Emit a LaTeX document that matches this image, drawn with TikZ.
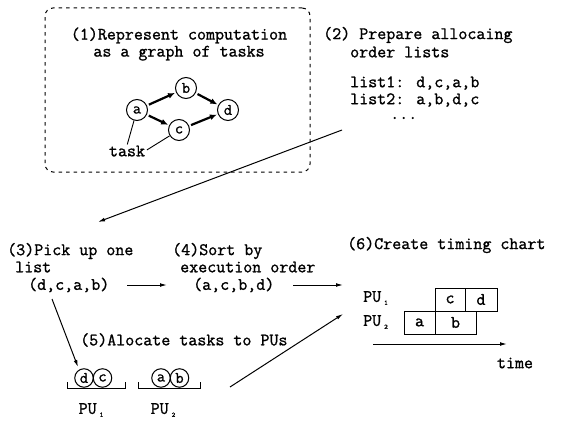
\documentclass[tikz,border=0pt]{standalone}
\usepackage{fontspec}
\newfontfamily\courfont[FakeBold=1.2]{Latin Modern Mono}
\usetikzlibrary{arrows.meta}
\newcommand{\pusub}[1]{\,\raisebox{-3pt}{\fontsize{7}{7}\selectfont #1}}
\begin{document}
\begin{tikzpicture}[x=1pt,y=-1pt,
  txt/.style={inner sep=0pt, font=\courfont\fontsize{17.5}{17}\selectfont},
  tsk/.style={circle, draw, line width=1pt, minimum size=21pt, inner sep=0pt, font=\courfont\fontsize{16}{16}\selectfont},
  thk/.style={line width=2.2pt, -{Latex[length=7pt,width=6pt]}, shorten <=2pt, shorten >=1pt},
  thinarrow/.style={line width=1pt, -{Latex[length=7pt,width=3.8pt]}},
  cell/.style={draw, line width=0.9pt, inner sep=0pt, minimum height=23pt, font=\courfont\fontsize{17.5}{17}\selectfont},
  frame/.style={draw, dash pattern=on 3.5pt off 4pt, line width=1pt, rounded corners=8pt, inner sep=0pt}
]
\useasboundingbox (0,0) rectangle (565,428);

% frame of step (1)
\node[frame, minimum width=265pt, minimum height=164pt] (fr) at (177.5,90) {};

% step (1)
\node[txt, align=center] (t1) at (179,44) {(1)Represent computation\\as a graph of tasks};
\node[tsk] (a) at (137,110) {a};
\node[tsk] (b) at (186,88) {b};
\node[tsk] (c) at (179,130) {c};
\node[tsk] (d) at (228,110) {d};
\draw[thk] (a) -- (b);
\draw[thk] (b) -- (d);
\draw[thk] (a) -- (c);
\draw[thk] (c) -- (d);
\node[txt] (task) at (127,151) {task};
\draw[line width=0.9pt, shorten <=1pt] (task.north) -- (a);
\draw[line width=0.9pt, shorten <=2pt] (task.east) -- (c);

% step (2)
\node[txt, anchor=west] (t2a) at (323,35) {(2) Prepare allocaing};
\node[txt, anchor=west] (t2b) at (350,52) {order lists};
\node[txt, anchor=west] (l1) at (350,83) {list1: d,c,a,b};
\node[txt, anchor=west] (l2) at (350,100) {list2: a,b,d,c};
\node[txt, anchor=west] (dots) at (390,118) {...};

\coordinate (p1) at (342,130);
\coordinate (p2) at (98,222);
\draw[thinarrow] (p1) -- (p2);

% step (3)
\node[txt, anchor=west] (s3a) at (7,251) {(3)Pick up one};
\node[txt, anchor=west] (s3b) at (15,267) {list};
\node[txt, anchor=west] (s3c) at (28,285) {(d,c,a,b)};

% step (4)
\node[txt, anchor=west] (s4a) at (172,251) {(4)Sort by};
\node[txt, anchor=west] (s4b) at (180,267) {execution order};
\node[txt, anchor=west] (s4c) at (193,285) {(a,c,b,d)};

\coordinate (q1) at (127,285);
\coordinate (q2) at (167,285);
\draw[thinarrow] (q1) -- (q2);
\coordinate (q3) at (293,285);
\coordinate (q4) at (343,285);
\draw[thinarrow] (q3) -- (q4);

% step (6)
\node[txt, anchor=west] (s6) at (347,245) {(6)Create timing chart};
\node[txt, anchor=west] (pu1c) at (363,298) {PU\pusub{1}};
\node[txt, anchor=west] (pu2c) at (363,322) {PU\pusub{2}};
\node[cell, minimum width=30pt] (cc) at (450,299.5) {c};
\node[cell, minimum width=32pt] (cd) at (481,299.5) {d};
\node[cell, minimum width=31pt] (ca) at (419.5,322.5) {a};
\node[cell, minimum width=41pt] (cb) at (455.5,322.5) {b};
\coordinate (t0) at (373,344);
\coordinate (t1e) at (507,344);
\draw[thinarrow] (t0) -- (t1e);
\node[txt] (time) at (515,363) {time};

% step (5)
\coordinate (r1) at (52,299);
\coordinate (r2) at (78,367);
\draw[thinarrow] (r1) -- (r2);
\node[txt, anchor=west] (s5) at (80,340) {(5)Alocate tasks to PUs};
\node[tsk, minimum size=18.5pt] (bd) at (84,378) {d};
\node[tsk, minimum size=18.5pt] (bc) at (102.5,378) {c};
\node[tsk, minimum size=18.5pt] (ba) at (161,378) {a};
\node[tsk, minimum size=18.5pt] (bb) at (179.5,378) {b};
\draw[line width=0.9pt] (67,382) -- (67,388) -- (125,388) -- (125,382);
\draw[line width=0.9pt] (138,382) -- (138,388) -- (200,388) -- (200,382);
\node[txt] (pu1) at (91,410) {PU\pusub{1}};
\node[txt] (pu2) at (163,410) {PU\pusub{2}};
\coordinate (r3) at (230,387);
\coordinate (r4) at (343,314);
\draw[thinarrow] (r3) -- (r4);
\end{tikzpicture}
\end{document}
